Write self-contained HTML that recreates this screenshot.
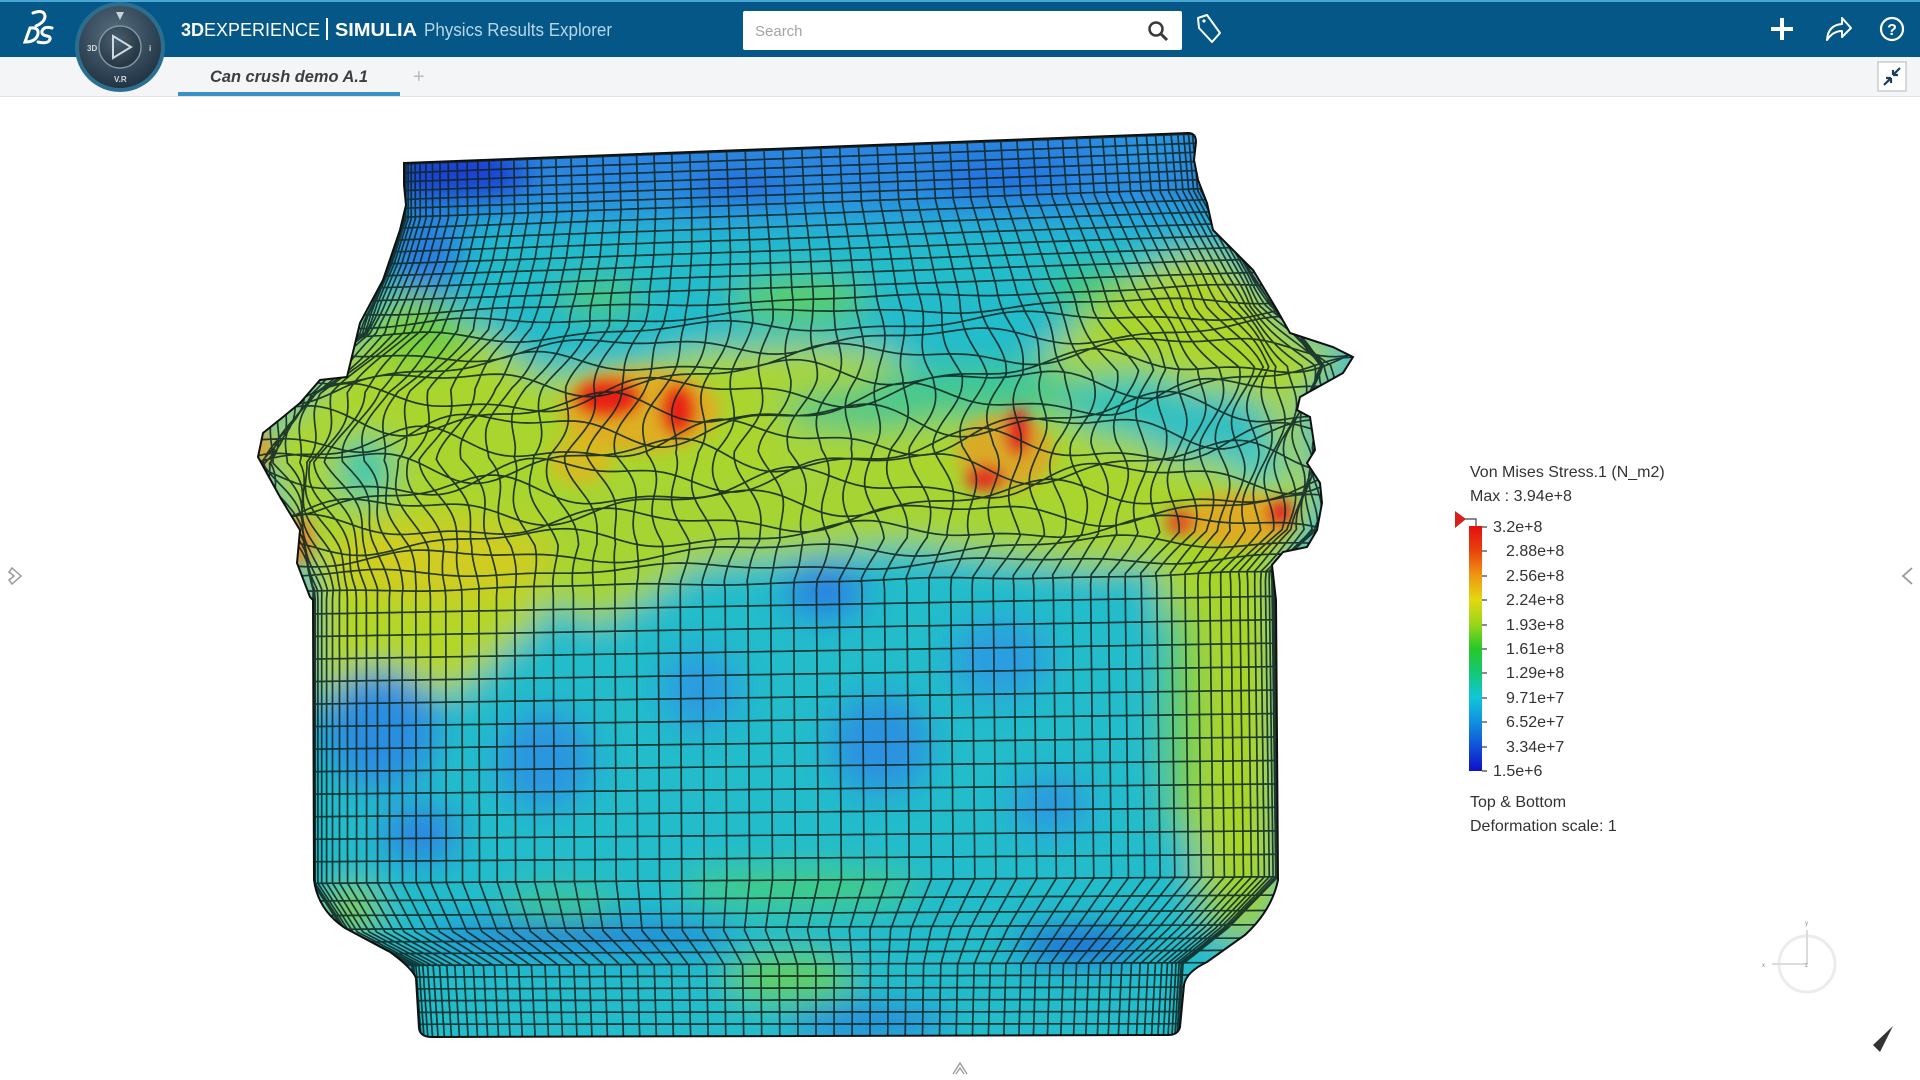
<!DOCTYPE html>
<html><head><meta charset="utf-8">
<style>
html,body{margin:0;padding:0;width:1920px;height:1080px;overflow:hidden;background:#fff;font-family:"Liberation Sans",Arial,sans-serif;}
#root{position:relative;width:1920px;height:1080px;}
svg{position:absolute;left:0;top:0;}
</style></head>
<body><div id="root">
<svg width="1920" height="1080" viewBox="0 0 1920 1080" xmlns="http://www.w3.org/2000/svg">
<defs>
  <clipPath id="canClip">
    <path id="canPath" d="M404,163 L1188,133 Q1196,133 1196,142 L1194,160 L1198,180 L1207,203 L1213,230 L1233,250 L1253,270 L1277,310 L1290,333 L1333,347 L1353,357 L1343,373 L1300,397 L1297,410 L1310,417 L1315,450 L1307,463 L1320,483 L1322,503 L1317,530 L1307,547 L1283,552 L1272,565 L1276,600 L1278,880 Q1272,910 1245,935 L1207,962 Q1186,972 1184,985 L1180,1027 Q1178,1035 1168,1035 L432,1037 Q420,1037 419,1028 L416,978 Q412,968 390,952 L345,928 Q318,910 314,880 L313,600 L310,597 L297,563 L300,530 L280,497 L258,457 L263,433 L283,417 L300,403 L320,380 L347,377 L360,323 L383,280 L400,230 L406,205 L404,185 Z"/>
  </clipPath>
  <filter id="blur" filterUnits="userSpaceOnUse" x="0" y="0" width="1920" height="1080">
    <feGaussianBlur stdDeviation="16"/>
  </filter>
  <filter id="blur2" filterUnits="userSpaceOnUse" x="0" y="0" width="1920" height="1080">
    <feGaussianBlur stdDeviation="7"/>
  </filter>
  <linearGradient id="cbar" x1="0" y1="0" x2="0" y2="1">
    <stop offset="0" stop-color="#e30f0f"/>
    <stop offset="0.1" stop-color="#e8420c"/>
    <stop offset="0.2" stop-color="#f09512"/>
    <stop offset="0.3" stop-color="#e4d810"/>
    <stop offset="0.4" stop-color="#9ad61a"/>
    <stop offset="0.5" stop-color="#28c828"/>
    <stop offset="0.6" stop-color="#14c876"/>
    <stop offset="0.7" stop-color="#10c6d8"/>
    <stop offset="0.8" stop-color="#1090e0"/>
    <stop offset="0.9" stop-color="#1050d8"/>
    <stop offset="1" stop-color="#1010c8"/>
  </linearGradient>
  <radialGradient id="disc" cx="0.45" cy="0.35" r="0.7">
    <stop offset="0" stop-color="#5a7080"/>
    <stop offset="0.6" stop-color="#34495a"/>
    <stop offset="1" stop-color="#1e3040"/>
  </radialGradient>
  <radialGradient id="inner" cx="0.4" cy="0.35" r="0.7">
    <stop offset="0" stop-color="#4a6070"/>
    <stop offset="1" stop-color="#22323e"/>
  </radialGradient>
</defs>

<!-- header -->
<rect x="0" y="0" width="1920" height="57" fill="#045786"/>
<rect x="0" y="0" width="1920" height="2" fill="#4aa6d6"/>
<!-- tab bar -->
<rect x="0" y="57" width="1920" height="39" fill="#f4f5f7"/>
<rect x="0" y="96" width="1920" height="1" fill="#e2e3e5"/>
<rect x="178" y="92" width="222" height="4" fill="#3a8fc6"/>
<text x="210" y="82" font-family="Liberation Sans, Arial, sans-serif" font-size="17" font-weight="bold" font-style="italic" fill="#3e3e3e" textLength="158" lengthAdjust="spacingAndGlyphs">Can crush demo A.1</text>
<text x="413" y="83" font-family="Liberation Sans, Arial, sans-serif" font-size="20" fill="#b8bcc0">+</text>
<!-- expand icon -->
<rect x="1878" y="62" width="28" height="29" fill="#fff" stroke="#c8ccd0" stroke-width="1.5"/>
<path d="M1891,78 L1884,85 M1891,78 L1886,78 M1891,78 L1891,83 M1893,75 L1900,68 M1893,75 L1898,75 M1893,75 L1893,70" stroke="#1d3f5c" stroke-width="2.2" fill="none"/>

<!-- DS logo -->
<g stroke="#ffffff" stroke-width="3" fill="none" stroke-linecap="round">
  <path d="M33,13 Q44,9 45,16 Q45,22 36,26"/>
  <path d="M30,28 L25,42 Q36,42 38,34 Q39,27 30,28"/>
  <path d="M52,28 Q44,26 42,31 Q41,35 47,36 Q52,37 49,41 Q46,44 38,42"/>
</g>
<!-- compass -->
<circle cx="120" cy="47" r="45" fill="#2b6f8e"/>
<circle cx="120" cy="47" r="41" fill="url(#disc)"/>
<circle cx="120" cy="47" r="21" fill="url(#inner)" stroke="#7f95a3" stroke-width="1.5"/>
<path d="M113,36 L131,47 L113,58 Z" fill="none" stroke="#cfd9e0" stroke-width="2"/>
<text x="87" y="51" font-family="Liberation Sans, Arial, sans-serif" font-size="8" font-weight="bold" fill="#d0d8de">3D</text>
<text x="114" y="82" font-family="Liberation Sans, Arial, sans-serif" font-size="8" font-weight="bold" fill="#d0d8de">V.R</text>
<text x="149" y="51" font-family="Liberation Sans, Arial, sans-serif" font-size="8" font-weight="bold" fill="#d0d8de">i</text>
<path d="M116,12 L124,12 L120,20 Z" fill="#c8d2da"/>

<!-- header title -->
<text y="36" font-family="Liberation Sans, Arial, sans-serif" font-size="18" fill="#ffffff">
  <tspan x="181" font-weight="bold">3D</tspan><tspan>EXPERIENCE</tspan>
</text>
<rect x="326" y="18" width="2" height="22" fill="#ffffff"/>
<text x="335" y="36" font-family="Liberation Sans, Arial, sans-serif" font-size="18" font-weight="bold" fill="#ffffff" textLength="82" lengthAdjust="spacingAndGlyphs">SIMULIA</text>
<text x="424" y="36" font-family="Liberation Sans, Arial, sans-serif" font-size="18" fill="#b6d6ea" textLength="188" lengthAdjust="spacingAndGlyphs">Physics Results Explorer</text>

<!-- search -->
<rect x="743" y="11" width="439" height="39" rx="2" fill="#ffffff"/>
<text x="755" y="36" font-family="Liberation Sans, Arial, sans-serif" font-size="15" fill="#a0a4a8">Search</text>
<circle cx="1156" cy="29" r="6.5" fill="none" stroke="#3a3a3a" stroke-width="2.5"/>
<path d="M1161,34 L1167,40" stroke="#3a3a3a" stroke-width="3"/>
<!-- tag -->
<path d="M1198,18 L1207,15 L1220,33 L1212,42 L1199,28 Z" fill="none" stroke="#ffffff" stroke-width="2" stroke-linejoin="round"/>
<circle cx="1204" cy="21" r="1.6" fill="#ffffff"/>
<!-- right icons -->
<rect x="1771" y="27" width="22" height="4" fill="#ffffff"/>
<rect x="1780" y="18" width="4" height="22" fill="#ffffff"/>
<path d="M1827,40 Q1828,25 1842,24 L1842,18 L1851,28 L1842,37 L1842,31 Q1833,31 1827,40 Z" fill="none" stroke="#ffffff" stroke-width="2" stroke-linejoin="round"/>
<circle cx="1892" cy="29" r="11" fill="none" stroke="#ffffff" stroke-width="2.2"/>
<text x="1892" y="35" text-anchor="middle" font-family="Liberation Sans, Arial, sans-serif" font-size="16" font-weight="bold" fill="#ffffff">?</text>

<!-- can colors -->
<g clip-path="url(#canClip)">
  <g filter="url(#blur)">
    <rect x="200" y="100" width="1250" height="980" fill="#22bccb"/>
    <!-- rim -->
    <rect x="380" y="110" width="850" height="95" fill="#2a86e0"/>
    <ellipse cx="455" cy="175" rx="75" ry="35" fill="#1f3ed4"/>
    <ellipse cx="740" cy="195" rx="55" ry="18" fill="#2260dc"/>
    <ellipse cx="1000" cy="180" rx="70" ry="20" fill="#2470e0"/>
    <ellipse cx="1150" cy="150" rx="50" ry="20" fill="#2a96e0"/>
    <rect x="380" y="205" width="850" height="25" fill="#26a2dc"/>
    <ellipse cx="425" cy="255" rx="40" ry="40" fill="#2a7ee0"/>
    <!-- upper green -->
    <ellipse cx="800" cy="300" rx="70" ry="22" fill="#5ccf58"/>
    <ellipse cx="600" cy="298" rx="45" ry="16" fill="#4ecb64"/>
    <ellipse cx="1100" cy="290" rx="55" ry="22" fill="#40c872"/>
    <!-- crumple yellow-green -->
    <polygon points="255,440 300,400 360,330 420,300 480,330 540,375 620,370 700,350 800,345 880,352 960,385 1040,360 1100,300 1160,262 1220,262 1290,330 1350,355 1300,400 1320,500 1290,555 1190,560 1100,525 1000,505 900,480 800,470 700,490 600,530 560,565 480,565 400,575 313,585" fill="#aad52e"/>
    <polygon points="1130,300 1175,255 1215,250 1260,285 1300,335 1250,340 1180,330" fill="#b0d42c"/>
    <polygon points="360,330 400,290 440,300 480,340 440,370 380,370" fill="#8ed23a"/>
    <ellipse cx="430" cy="335" rx="35" ry="22" fill="#6ccc44"/>
    <ellipse cx="365" cy="470" rx="28" ry="32" fill="#30c8ae"/>
    <ellipse cx="860" cy="410" rx="80" ry="22" fill="#52c884"/>
    <ellipse cx="980" cy="392" rx="120" ry="28" fill="#42c890"/>
    <ellipse cx="1130" cy="405" rx="65" ry="32" fill="#2cc4b8"/>
    <ellipse cx="1205" cy="425" rx="70" ry="35" fill="#30c0c2"/>
    <ellipse cx="1260" cy="465" rx="30" ry="18" fill="#30c8c8"/>
    <!-- lower left yellow -->
    <polygon points="313,555 565,555 540,620 460,690 313,705" fill="#b4d628"/>
    <polygon points="560,480 900,470 1100,520 1180,565 1100,570 900,545 700,565 600,625 540,600" fill="#a6d430"/>
    <ellipse cx="440" cy="560" rx="110" ry="40" fill="#d0cc22"/>
    <!-- right band -->
    <polygon points="1150,540 1282,540 1282,905 1200,905 1180,700 1160,600" fill="#a8d42c"/>
    <ellipse cx="1180" cy="720" rx="18" ry="120" fill="#62cc60"/>
    <!-- blue patches lower body -->
    <ellipse cx="380" cy="730" rx="60" ry="60" fill="#2a8ee0"/>
    <ellipse cx="420" cy="835" rx="40" ry="30" fill="#2a88e0"/>
    <ellipse cx="545" cy="760" rx="50" ry="50" fill="#2a96e0"/>
    <ellipse cx="825" cy="592" rx="40" ry="28" fill="#2a82e0"/>
    <ellipse cx="880" cy="745" rx="50" ry="50" fill="#2a92e0"/>
    <ellipse cx="700" cy="690" rx="40" ry="40" fill="#2a9ce0"/>
    <ellipse cx="1000" cy="660" rx="50" ry="40" fill="#2a9ee0"/>
    <ellipse cx="1050" cy="805" rx="40" ry="30" fill="#2a9ae0"/>
    <!-- lower greens -->
    <ellipse cx="800" cy="888" rx="120" ry="22" fill="#40cc82"/>
    <ellipse cx="560" cy="905" rx="60" ry="18" fill="#3cc890"/>
    <ellipse cx="350" cy="910" rx="30" ry="25" fill="#80d040"/>
    <ellipse cx="1240" cy="910" rx="40" ry="30" fill="#94d040"/>
    <!-- bend & neck -->
    <ellipse cx="580" cy="937" rx="160" ry="12" fill="#2560e0"/>
    <ellipse cx="1080" cy="945" rx="65" ry="15" fill="#2040d8"/>
    <ellipse cx="790" cy="978" rx="65" ry="24" fill="#62d050"/>
    <ellipse cx="870" cy="1022" rx="80" ry="14" fill="#2a7ae0"/>
  </g>
  <g filter="url(#blur2)">
    <!-- hot spots -->
    <ellipse cx="640" cy="410" rx="80" ry="42" fill="#e6a822" opacity="0.85"/>
    <ellipse cx="608" cy="398" rx="34" ry="20" fill="#e82018"/>
    <ellipse cx="678" cy="410" rx="18" ry="26" fill="#e82018"/>
    <ellipse cx="1005" cy="452" rx="48" ry="38" fill="#e2a224" opacity="0.85"/>
    <ellipse cx="1018" cy="432" rx="13" ry="24" fill="#e02020"/>
    <ellipse cx="985" cy="478" rx="20" ry="13" fill="#e03020"/>
    <ellipse cx="1240" cy="520" rx="55" ry="28" fill="#e8a420" opacity="0.85"/>
    <ellipse cx="1280" cy="513" rx="14" ry="14" fill="#e02020"/>
    <ellipse cx="1180" cy="522" rx="14" ry="14" fill="#e05020"/>
    <ellipse cx="300" cy="540" rx="14" ry="24" fill="#e88c20"/>
    <ellipse cx="263" cy="450" rx="9" ry="18" fill="#e8a020"/>
    <ellipse cx="580" cy="460" rx="30" ry="25" fill="#e8b020" opacity="0.7"/>
  </g>
  <path id="mesh" d="" fill="none" stroke="#0e2622" stroke-width="1.7" stroke-opacity="0.88"/>
</g>
<use href="#canPath" fill="none" stroke="#101010" stroke-width="2"/>

<!-- legend -->
<g font-family="Liberation Sans, Arial, sans-serif" font-size="16" fill="#333333">
  <text x="1470" y="477">Von Mises Stress.1 (N_m2)</text>
  <text x="1470" y="501">Max : 3.94e+8</text>
  <text x="1493" y="532">3.2e+8</text>
  <text x="1506" y="556">2.88e+8</text>
  <text x="1506" y="581">2.56e+8</text>
  <text x="1506" y="605">2.24e+8</text>
  <text x="1506" y="630">1.93e+8</text>
  <text x="1506" y="654">1.61e+8</text>
  <text x="1506" y="678">1.29e+8</text>
  <text x="1506" y="703">9.71e+7</text>
  <text x="1506" y="727">6.52e+7</text>
  <text x="1506" y="752">3.34e+7</text>
  <text x="1493" y="776">1.5e+6</text>
  <text x="1470" y="807">Top &amp; Bottom</text>
  <text x="1470" y="831">Deformation scale: 1</text>
</g>
<rect x="1469" y="526" width="13" height="245" fill="url(#cbar)"/>
<g stroke="#444" stroke-width="1.2">
  <path d="M1482,527 h5 M1482,551 h5 M1482,576 h5 M1482,600 h5 M1482,625 h5 M1482,649 h5 M1482,673 h5 M1482,698 h5 M1482,722 h5 M1482,747 h5 M1482,771 h5"/>
  <path d="M1464,519 H1476 V526" fill="none"/>
</g>
<path d="M1455,511 L1466,519 L1455,528 Z" fill="#d8201c"/>

<!-- side chevrons -->
<path d="M12,568 L21,576 L12,584 L9,580 L14,576 L9,572 Z" fill="none" stroke="#9a9a9a" stroke-width="1.5"/>
<path d="M1912,568 L1903,576 L1912,584" fill="none" stroke="#9a9a9a" stroke-width="1.8"/>
<path d="M953,1074 L960,1063 L967,1074 M956,1074 L960,1068 L964,1074" fill="none" stroke="#9a9a9a" stroke-width="1.3"/>

<!-- triad -->
<circle cx="1807" cy="964" r="28" fill="none" stroke="#ececec" stroke-width="3"/>
<path d="M1807,964 V930 M1807,964 H1772" stroke="#dcdcdc" stroke-width="2"/>
<text x="1805" y="925" font-family="Liberation Sans, Arial, sans-serif" font-size="6" fill="#888">y</text>
<text x="1762" y="967" font-family="Liberation Sans, Arial, sans-serif" font-size="6" fill="#888">x</text>
<text x="1805" y="967" font-family="Liberation Sans, Arial, sans-serif" font-size="6" fill="#888">z</text>
<path d="M1893,1026 L1873,1045 L1880,1052 Z" fill="#333"/>
</svg>
</div>
<script>
(function(){
  var prof=[[110,404,1196],[205,404,1205],[250,390,1230],[320,360,1270],[380,290,1330],[450,262,1322],[540,300,1315],[580,313,1274],[880,313,1278],[930,345,1228],[965,412,1183],[1050,418,1178]];
  function P(y){
    for(var i=0;i<prof.length-1;i++){var a=prof[i],b=prof[i+1];
      if(y<=b[0]){var t=(y-a[0])/(b[0]-a[0]);t=Math.max(0,Math.min(1,t));return [a[1]+(b[1]-a[1])*t,a[2]+(b[2]-a[2])*t];}}
    var l=prof[prof.length-1];return [l[1],l[2]];
  }
  function tilt(y){return -0.038*Math.max(0,(1040-y))/892;}
  function crum(y){if(y<290||y>590)return 0;return Math.sin((y-290)/300*Math.PI);}
  var d='';var N=66;
  for(var k=0;k<=N;k++){
    var th=-Math.PI/2+Math.PI*k/N,s=Math.sin(th);var pts=[];
    for(var y=115;y<=1045;y+=5){
      var p=P(y),x=(p[0]+p[1])/2+(p[1]-p[0])/2*s;
      x+=crum(y)*9*Math.sin(y/17+k*0.9);
      var yy=y+tilt(y)*(x-800);
      pts.push(x.toFixed(1)+','+yy.toFixed(1));
    }
    d+='M'+pts.join('L');
  }
  var rows=[140,149,158,167,176,185,194,203,214,226,238,250,262,274,287,300,313,326,342,358,374,390,406,422,438,454,470,486,502,518,534,550,566,582,605,628,651,674,697,720,743,766,789,812,835,858,880,898,913,927,940,952,964,976,988,1000,1012,1024];
  rows.forEach(function(y0,i){
    var pts=[];var c=crum(y0);
    for(var x=240;x<=1380;x+=8){
      var y=y0+tilt(y0)*(x-800)+c*(15*Math.sin(x/52+i*1.7)+7*Math.sin(x/23+i));
      pts.push(x+','+y.toFixed(1));
    }
    d+='M'+pts.join('L');
  });
  document.getElementById('mesh').setAttribute('d',d);
})();
</script>
</body></html>
